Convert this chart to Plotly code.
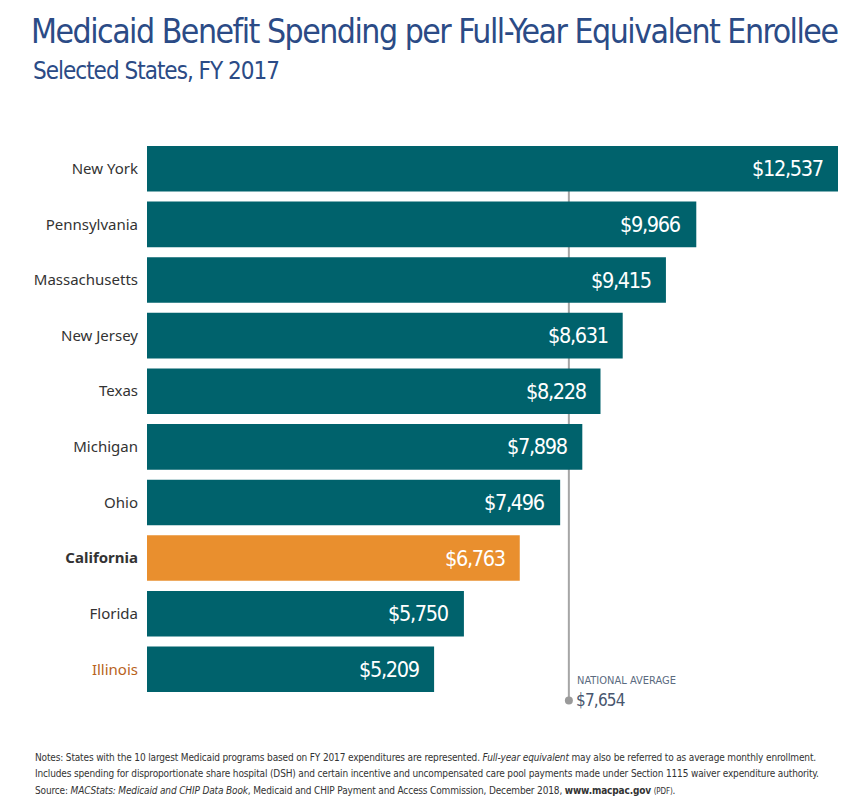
import plotly.graph_objects as go

states = ["New York", "Pennsylvania", "Massachusetts", "New Jersey", "Texas",
          "Michigan", "Ohio", "California", "Florida", "Illinois"]
values = [12537, 9966, 9415, 8631, 8228, 7898, 7496, 6763, 5750, 5209]
national_avg = 7654
highlight = "California"

teal = "#00626c"
orange = "#e98f2e"
bar_colors = [orange if s == highlight else teal for s in states]
ypos = list(range(len(states)))

tick_text = []
for s in states:
    if s == highlight:
        tick_text.append("<b>%s</b>" % s)
    elif s == "Illinois":
        tick_text.append("<span style='color:#b8621b'>%s</span>" % s)
    else:
        tick_text.append(s)

narrow = "DejaVu Sans Condensed"
def nfont(size, color, weight="normal"):
    return dict(family=narrow, size=size, color=color, weight=weight)

def sp(t, ls):
    return "<span style='letter-spacing:%s'>%s</span>" % (ls, t)

dot_y = 9.56

fig = go.Figure()
fig.add_shape(type="line", xref="x", yref="y", x0=national_avg, x1=national_avg,
              y0=0, y1=dot_y, line=dict(color="#a6a6a6", width=2), layer="below")

fig.add_trace(go.Bar(
    x=values, y=ypos, orientation="h", width=0.82,
    marker=dict(color=bar_colors, line=dict(width=0)),
    hoverinfo="skip", showlegend=False,
))

fig.add_trace(go.Scatter(
    x=[national_avg], y=[dot_y], mode="markers",
    marker=dict(color="#9a9a9a", size=8), cliponaxis=False,
    hoverinfo="skip", showlegend=False,
))

annotations = []
for s, v, yp in zip(states, values, ypos):
    annotations.append(dict(
        x=v, y=yp, xref="x", yref="y", text=sp("$" + format(v, ","), "-1.3px"),
        xanchor="right", yanchor="middle", xshift=-13, showarrow=False,
        font=nfont(21.5, "white"),
    ))

annotations.append(dict(
    x=national_avg, y=9.2, xref="x", yref="y", text="NATIONAL AVERAGE",
    xanchor="left", yanchor="middle", xshift=6, showarrow=False,
    font=nfont(11, "#5b6b80"),
))
annotations.append(dict(
    x=national_avg, y=dot_y, xref="x", yref="y", text=sp("$" + format(national_avg, ","), "-0.8px"),
    xanchor="left", yanchor="middle", xshift=5, showarrow=False,
    font=nfont(17, "#48566e"),
))

annotations.append(dict(
    x=-0.168, y=1.126, xref="paper", yref="paper", xanchor="left", yanchor="middle",
    text=sp("Selected States, FY 2017", "-1px"), showarrow=False,
    font=nfont(24, "#2b4b86", 300),
))

notes = [
    "Notes: States with the 10 largest Medicaid programs based on FY 2017 expenditures are represented. <i>Full-year equivalent</i> may also be referred to as average monthly enrollment.",
    "Includes spending for disproportionate share hospital (DSH) and certain incentive and uncompensated care pool payments made under Section 1115 waiver expenditure authority.",
    "Source: <i>MACStats: Medicaid and CHIP Data Book</i>, Medicaid and CHIP Payment and Access Commission, December 2018, <b>www.macpac.gov</b> <span style='font-size:8px'>(PDF)</span>.",
]
note_y = [-0.108, -0.137, -0.169]
for t, yy in zip(notes, note_y):
    annotations.append(dict(
        x=-0.165, y=yy, xref="paper", yref="paper", xanchor="left", yanchor="middle",
        text=sp(t, "-0.15px"), showarrow=False, font=nfont(10, "#333333"),
    ))

plot_h = 805 - 141 - 94
fig.update_layout(
    width=844, height=805,
    margin=dict(l=147, r=6, t=141, b=94),
    paper_bgcolor="white", plot_bgcolor="white",
    title=dict(text=sp("Medicaid Benefit Spending per Full-Year Equivalent Enrollee", "-1.5px"),
               x=31 / 844, xref="container", xanchor="left",
               y=1 - 31 / 805, yref="container", yanchor="middle",
               font=nfont(33.5, "#2b4b86")),
    xaxis=dict(range=[0, 12537], visible=False, fixedrange=True),
    yaxis=dict(range=[9.75, -0.5], tickvals=ypos, ticktext=tick_text,
               showgrid=False, zeroline=False, showline=False, ticks="",
               ticklabelstandoff=8,
               tickfont=dict(family="Noto Sans, Open Sans, sans-serif", size=15, color="#333333")),
    annotations=annotations,
    bargap=0.18,
)
# paper-referenced annotation y values were tuned for a plot area from y=141 to y=697
for a in fig.layout.annotations:
    if a.yref == "paper":
        px = 697 - a.y * 556
        a.y = (711 - px) / plot_h

fig.write_html("out.html")
